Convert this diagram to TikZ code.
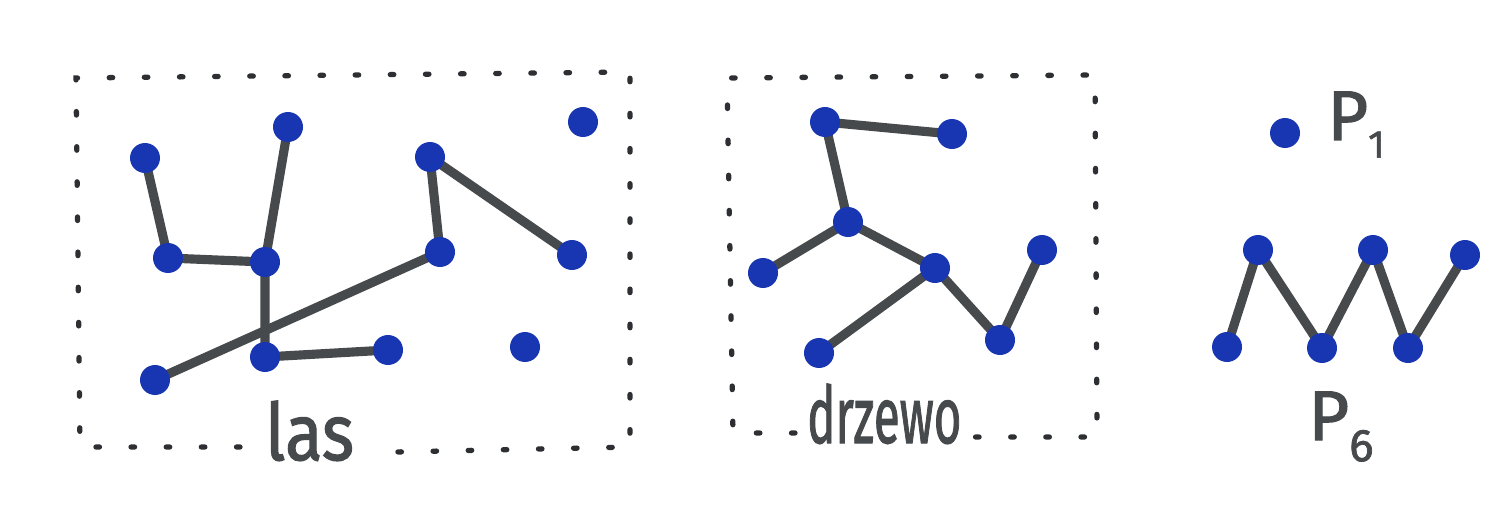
\documentclass[tikz,border=0pt]{standalone}
\usepackage{fontspec}
\setmainfont{Fira Sans}
\newfontfamily\handfont{Fira Sans}[FakeBold=1.6]
\usetikzlibrary{backgrounds}
\definecolor{ink}{RGB}{70,74,76}
\definecolor{dotblue}{RGB}{24,54,178}
\definecolor{frame}{RGB}{45,47,50}
\begin{document}
\begin{tikzpicture}[x=0.02cm,y=-0.02cm,
  vtx/.style={circle,fill=dotblue,inner sep=0pt,minimum size=0.6cm},
  edge/.style={draw=ink,line width=5.2pt,line cap=round,line join=round},
  frm/.style={draw=frame,line width=3pt,line cap=round,dash pattern=on 2pt off 18pt},
  lbl/.style={text=ink,inner sep=0pt,anchor=base west,font=\handfont\fontsize{45}{45}\selectfont}]
\useasboundingbox (0,0) rectangle (1506,513);
% ---- las ----
\node[vtx] (a1) at (145,158) {};
\node[vtx] (a2) at (288,127) {};
\node[vtx] (a3) at (168,258) {};
\node[vtx] (a4) at (265,262) {};
\node[vtx] (a5) at (430,157) {};
\node[vtx] (a6) at (440,252) {};
\node[vtx] (a7) at (572,255) {};
\node[vtx] (a8) at (583,122) {};
\node[vtx] (a9) at (155,380) {};
\node[vtx] (a10) at (265,357) {};
\node[vtx] (a11) at (388,350) {};
\node[vtx] (a12) at (525,347) {};
% ---- drzewo ----
\node[vtx] (b1) at (825,122) {};
\node[vtx] (b2) at (952,134) {};
\node[vtx] (b3) at (848,222) {};
\node[vtx] (b4) at (763,273) {};
\node[vtx] (b5) at (935,268) {};
\node[vtx] (b6) at (1042,250) {};
\node[vtx] (b7) at (819,353) {};
\node[vtx] (b8) at (1000,340) {};
% ---- P1, P6 ----
\node[vtx] (p1) at (1285,133) {};
\node[vtx] (c1) at (1227,347) {};
\node[vtx] (c2) at (1258,250) {};
\node[vtx] (c3) at (1322,348) {};
\node[vtx] (c4) at (1373,250) {};
\node[vtx] (c5) at (1408,348) {};
\node[vtx] (c6) at (1465,255) {};
\begin{pgfonlayer}{background}
\fill[white] (0,0) rectangle (1506,513);
\path[edge] (a1.center) -- (a3.center) -- (a4.center) -- (a2.center);
\path[edge] (a4.center) -- (a10.center) -- (a11.center);
\path[edge] (a7.center) -- (a5.center) -- (a6.center) -- (a9.center);
\path[edge] (b2.center) -- (b1.center) -- (b3.center) -- (b4.center);
\path[edge] (b3.center) -- (b5.center) -- (b7.center);
\path[edge] (b5.center) -- (b8.center) -- (b6.center);
\path[edge] (c1.center) -- (c2.center) -- (c3.center) -- (c4.center) -- (c5.center) -- (c6.center);
\end{pgfonlayer}
% ---- frames ----
\coordinate (f1) at (240,447);
\coordinate (f2) at (80,447);
\coordinate (f3) at (76,78);
\coordinate (f4) at (630,72);
\coordinate (f5) at (630,447);
\coordinate (f6) at (395,452);
\path[frm] (f1) -- (f2) -- (f3) -- (f4) -- (f5) -- (f6);
\coordinate (g1) at (795,433);
\coordinate (g2) at (733,433);
\coordinate (g3) at (727,78);
\coordinate (g4) at (1095,75);
\coordinate (g5) at (1097,437);
\coordinate (g6) at (975,437);
\path[frm] (g1) -- (g2) -- (g3) -- (g4) -- (g5) -- (g6);
% ---- labels ----
\node[lbl,xscale=0.87] (las) at (265,460) {las};
\node[lbl,xscale=0.6] (drz) at (807,443) {drzewo};
\node[lbl,font=\handfont\fontsize{40}{40}\selectfont] (lp1) at (1327,140) {P\raisebox{-10pt}{\fontsize{22}{22}\selectfont 1}};
\node[lbl,font=\handfont\fontsize{40}{40}\selectfont] (lp6) at (1308,440) {P\raisebox{-12pt}{\fontsize{26}{26}\selectfont 6}};
\end{tikzpicture}
\end{document}
